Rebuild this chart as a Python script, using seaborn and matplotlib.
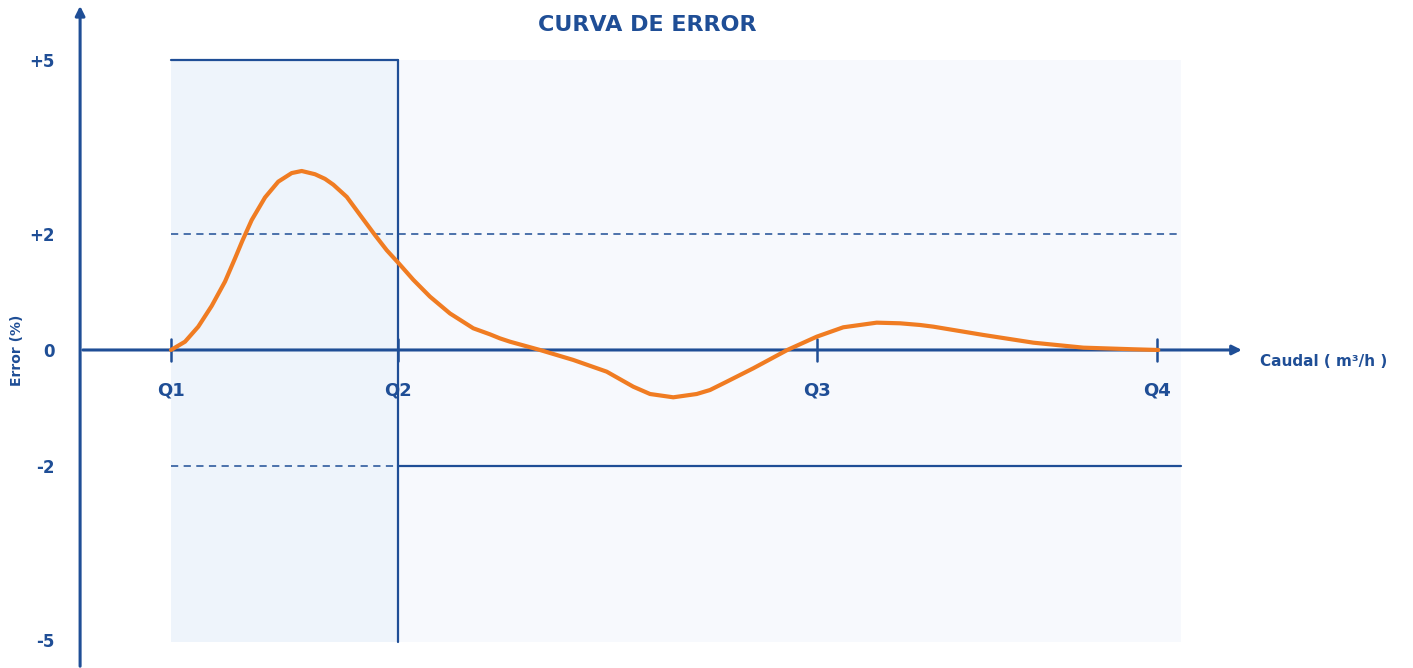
import numpy as np
import pandas as pd
import matplotlib
matplotlib.use('Agg')
import matplotlib.pyplot as plt
import seaborn as sns

# curve (caudal in arbitrary units, Q1 = 0)
caudal = [0.0, 1.39, 2.70, 4.03, 5.35, 6.34, 7.06, 7.99, 9.31, 10.62, 11.95, 12.94,
          14.26, 15.25, 16.07, 17.40, 18.71, 20.20, 21.36, 22.57, 23.99, 25.64,
          27.62, 29.93, 31.58, 32.57, 33.56, 36.53, 39.83, 43.14, 45.77, 47.43,
          49.73, 52.05, 53.37, 55.02, 57.65, 61.02, 63.93, 66.56, 69.87, 72.18,
          74.16, 75.48, 80.43, 85.38, 90.33, 95.28, 97.75]
error = [0.0, 0.143, 0.402, 0.760, 1.180, 1.580, 1.880, 2.240, 2.630, 2.902, 3.050, 3.086,
         3.030, 2.950, 2.850, 2.640, 2.330, 1.980, 1.720, 1.490, 1.210, 0.920,
         0.630, 0.374, 0.270, 0.200, 0.143, 0.0, -0.172, -0.374, -0.633, -0.759,
         -0.816, -0.759, -0.690, -0.547, -0.316, 0.0, 0.229, 0.391, 0.471, 0.460,
         0.431, 0.402, 0.259, 0.126, 0.040, 0.012, 0.0]

q_names = ['Q1', 'Q2', 'Q3', 'Q4']
q_pos = [0.0, 22.5, 64.0, 97.6]
y_ticks = [5, 2, 0, -2, -5]
y_labels = ['+5', '+2', '0', '-2', '-5']
x_end = 100.0

blue = '#1f4e96'
orange = '#f07c22'

df = pd.DataFrame({'caudal': caudal, 'error': error})

sns.set_theme(style='white')
plt.rcParams['font.family'] = ['DejaVu Sans']

fig = plt.figure(figsize=(14.13, 6.68), dpi=100)
ax = fig.add_axes([0, 0, 1, 1])
ax.set_xlim(-16.93, 122.97)
ax.set_ylim(-5.483, 6.034)
ax.axis('off')

# shaded zones
ax.fill_between([q_pos[0], q_pos[1]], -5.03, 5, color='#eef4fb', lw=0, zorder=0)
ax.fill_between([q_pos[1], x_end], -5.03, 5, color='#f7f9fd', lw=0, zorder=0)

# limits
ax.plot([q_pos[0], q_pos[1]], [5, 5], color=blue, lw=1.6, zorder=2)
ax.plot([q_pos[1], q_pos[1]], [-5.03, 5], color=blue, lw=1.6, zorder=2)
ax.plot([q_pos[0], x_end], [2, 2], color=blue, lw=1.3, ls=(0, (4, 3)), alpha=0.85, zorder=2)
ax.plot([q_pos[0], q_pos[1]], [-2, -2], color=blue, lw=1.3, ls=(0, (4, 3)), alpha=0.85, zorder=2)
ax.plot([q_pos[1], x_end], [-2, -2], color=blue, lw=1.6, zorder=2)

# axes with arrows
ax.annotate('', xy=(106.3, 0), xytext=(-9.0, 0),
            arrowprops=dict(arrowstyle='-|>', color=blue, lw=2.2, mutation_scale=14), zorder=3)
ax.annotate('', xy=(-9.0, 5.98), xytext=(-9.0, -5.5),
            arrowprops=dict(arrowstyle='-|>', color=blue, lw=2.2, mutation_scale=14), zorder=3)

# Q ticks and labels
for name, q in zip(q_names, q_pos):
    ax.plot([q, q], [-0.19, 0.19], color=blue, lw=1.8, zorder=3)
    ax.text(q, -0.69, name, color=blue, fontsize=13, fontweight='bold',
            ha='center', va='center')

for yv, lab in zip(y_ticks, y_labels):
    ax.text(-11.5, yv - 0.03, lab, color=blue, fontsize=12, fontweight='bold',
            ha='right', va='center')

# error curve
sns.lineplot(data=df, x='caudal', y='error', ax=ax, color=orange, lw=3,
             sort=False, zorder=4)

ax.text(47.2, 5.6, 'CURVA DE ERROR', color=blue, fontsize=16, fontweight='bold',
        ha='center', va='center')
ax.text(107.8, -0.2, 'Caudal ( m³/h )', color=blue, fontsize=11, fontweight='bold',
        ha='left', va='center')
ax.text(-15.25, 0.0, 'Error (%)', color=blue, fontsize=10, fontweight='bold',
        ha='center', va='center', rotation=90)

fig.savefig('out.png', dpi=100)
